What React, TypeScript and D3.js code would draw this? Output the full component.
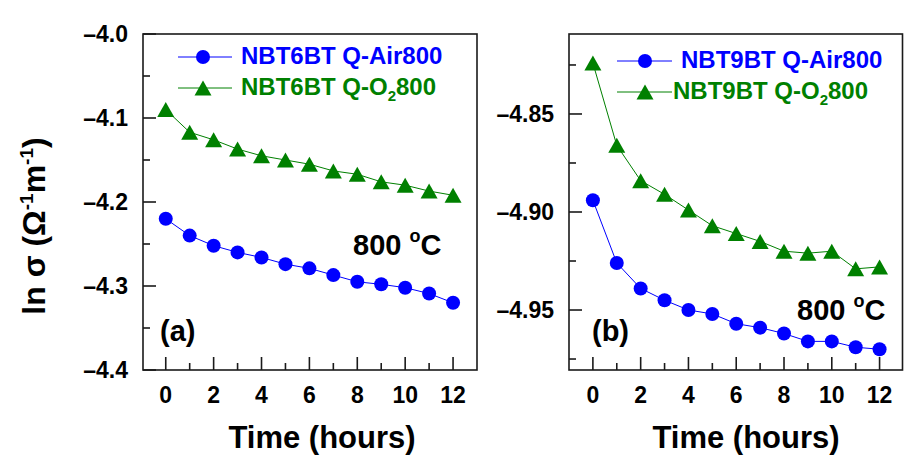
import React from "react";
import * as d3 from "d3";

// Time axis (hours)
const hours = [0, 1, 2, 3, 4, 5, 6, 7, 8, 9, 10, 11, 12];

// Panel (a): NBT6BT at 800 °C, ln σ
const nbt6Air = [-4.220, -4.240, -4.252, -4.260, -4.266, -4.274, -4.279, -4.287, -4.295, -4.298, -4.302, -4.309, -4.320];
const nbt6O2 = [-4.090, -4.117, -4.126, -4.137, -4.145, -4.150, -4.155, -4.163, -4.167, -4.176, -4.180, -4.187, -4.192];

// Panel (b): NBT9BT at 800 °C, ln σ
const nbt9Air = [-4.894, -4.926, -4.939, -4.945, -4.950, -4.952, -4.957, -4.959, -4.962, -4.966, -4.966, -4.969, -4.970];
const nbt9O2 = [-4.824, -4.866, -4.884, -4.891, -4.899, -4.907, -4.911, -4.915, -4.920, -4.921, -4.920, -4.929, -4.928];

// Tick values
const xMajorTicks = [0, 2, 4, 6, 8, 10, 12];
const xMinorTicks = [1, 3, 5, 7, 9, 11];
const yMajorLeft = [-4.4, -4.3, -4.2, -4.1, -4.0];
const yMinorLeft = [-4.35, -4.25, -4.15, -4.05];
const yMajorRight = [-4.95, -4.9, -4.85];
const yMinorRight = [-4.975, -4.925, -4.875, -4.825];

const BLUE = "#0000ff";
const GREEN = "#008000";
const FONT = "'Liberation Sans', Arial, sans-serif";

type PanelProps = {
  x0: number;
  x1: number;
  xDomain: [number, number];
  yDomain: [number, number];
  yMajor: number[];
  yMinor: number[];
  yFormat: (v: number) => string;
  air: number[];
  o2: number[];
  airLabel: string;
  o2Prefix: string;
  legend: { line0: number; line1: number; mark: number; textX: number; textX2: number; row1: number; row2: number };
  tag: string;
  tagX: number;
  tempX: number;
  tempY: number;
  titleX: number;
};

const TOP = 34;
const BOTTOM = 370;

function triPath(cx: number, cy: number, w = 17, h = 15) {
  return `M${cx},${cy - h / 2}L${cx + w / 2},${cy + h / 2}L${cx - w / 2},${cy + h / 2}Z`;
}

function Panel(p: PanelProps) {
  const x = d3.scaleLinear().domain(p.xDomain).range([p.x0, p.x1]);
  const y = d3.scaleLinear().domain(p.yDomain).range([BOTTOM, TOP]);
  const line = d3
    .line<number>()
    .x((_, i) => x(hours[i]))
    .y((d) => y(d));
  const major = 13;
  const minor = 7;
  return (
    <g fontFamily={FONT} fontWeight="bold">
      {/* series lines */}
      <path d={line(p.o2) || ""} fill="none" stroke={GREEN} strokeWidth={1} />
      <path d={line(p.air) || ""} fill="none" stroke={BLUE} strokeWidth={1} />
      {p.o2.map((v, i) => (
        <path key={"t" + i} d={triPath(x(hours[i]), y(v))} fill={GREEN} />
      ))}
      {p.air.map((v, i) => (
        <circle key={"c" + i} cx={x(hours[i])} cy={y(v)} r={7} fill={BLUE} />
      ))}

      {/* frame */}
      <rect x={p.x0} y={TOP} width={p.x1 - p.x0} height={BOTTOM - TOP} fill="none" stroke="#1a1a1a" strokeWidth={1.6} />

      {/* x ticks */}
      {xMajorTicks.map((t) => (
        <g key={"xm" + t}>
          <line x1={x(t)} x2={x(t)} y1={BOTTOM} y2={BOTTOM - major} stroke="#1a1a1a" strokeWidth={1.6} />
          <text x={x(t)} y={403} fontSize={23} textAnchor="middle" fill="#000">
            {t}
          </text>
        </g>
      ))}
      {xMinorTicks.map((t) => (
        <line key={"xn" + t} x1={x(t)} x2={x(t)} y1={BOTTOM} y2={BOTTOM - minor} stroke="#1a1a1a" strokeWidth={1.6} />
      ))}

      {/* y ticks */}
      {p.yMajor.map((t) => (
        <g key={"ym" + t}>
          <line x1={p.x0} x2={p.x0 + major} y1={y(t)} y2={y(t)} stroke="#1a1a1a" strokeWidth={1.6} />
          <text x={p.x0 - 15} y={y(t) + 8} fontSize={23} textAnchor="end" fill="#000">
            {p.yFormat(t)}
          </text>
        </g>
      ))}
      {p.yMinor.map((t) => (
        <line key={"yn" + t} x1={p.x0} x2={p.x0 + minor} y1={y(t)} y2={y(t)} stroke="#1a1a1a" strokeWidth={1.6} />
      ))}

      {/* legend */}
      <line x1={p.legend.line0} x2={p.legend.line1} y1={p.legend.row1 - 7} y2={p.legend.row1 - 7} stroke={BLUE} strokeWidth={1} />
      <circle cx={p.legend.mark} cy={p.legend.row1 - 7} r={7} fill={BLUE} />
      <text x={p.legend.textX} y={p.legend.row1} fontSize={24} fill={BLUE}>
        {p.airLabel}
      </text>
      <line x1={p.legend.line0} x2={p.legend.line1} y1={p.legend.row2 - 7} y2={p.legend.row2 - 7} stroke={GREEN} strokeWidth={1} />
      <path d={triPath(p.legend.mark, p.legend.row2 - 7)} fill={GREEN} />
      <text x={p.legend.textX2} y={p.legend.row2} fontSize={24} fill={GREEN}>
        {p.o2Prefix}
        <tspan fontSize={15} dy={6}>2</tspan>
        <tspan dy={-6}>800</tspan>
      </text>

      {/* annotations */}
      <text x={p.tagX} y={341} fontSize={29} fill="#000">
        {p.tag}
      </text>
      <text x={p.tempX} y={p.tempY} fontSize={29} fill="#000">
        800 <tspan fontSize={18} dy={-13}>o</tspan>
        <tspan dy={13}>C</tspan>
      </text>

      {/* x-axis title */}
      <text x={p.titleX} y={448} fontSize={31} textAnchor="middle" fill="#000">
        Time (hours)
      </text>
    </g>
  );
}

const fmtTick = (digits: number) => (v: number) => d3.format(`.${digits}f`)(v).replace("−", "–");

export default function App() {
  return (
    <svg
      width={904}
      height={455}
      style={{ position: "absolute", left: 0, top: 0, background: "#ffffff" }}
    >
      <Panel
        x0={143}
        x1={477}
        xDomain={[-0.95, 13]}
        yDomain={[-4.4, -4.0]}
        yMajor={yMajorLeft}
        yMinor={yMinorLeft}
        yFormat={fmtTick(1)}
        air={nbt6Air}
        o2={nbt6O2}
        airLabel="NBT6BT Q-Air800"
        o2Prefix="NBT6BT Q-O"
        legend={{ line0: 178, line1: 232, mark: 203, textX: 241, textX2: 241, row1: 64, row2: 95 }}
        tag="(a)"
        tagX={160}
        tempX={353}
        tempY={255}
        titleX={322}
      />
      <Panel
        x0={569}
        x1={902.5}
        xDomain={[-1, 12.96]}
        yDomain={[-4.9806, -4.8092]}
        yMajor={yMajorRight}
        yMinor={yMinorRight}
        yFormat={fmtTick(2)}
        air={nbt9Air}
        o2={nbt9O2}
        airLabel="NBT9BT Q-Air800"
        o2Prefix="NBT9BT Q-O"
        legend={{ line0: 617, line1: 672, mark: 645, textX: 681, textX2: 673, row1: 68, row2: 99 }}
        tag="(b)"
        tagX={592}
        tempX={797}
        tempY={320}
        titleX={746}
      />

      {/* shared y-axis title */}
      <text
        transform="translate(45,226) rotate(-90)"
        fontFamily={FONT}
        fontWeight="bold"
        fontSize={32}
        textAnchor="middle"
        fill="#000"
      >
        ln σ (Ω<tspan fontSize={19} dy={-12}>-1</tspan>
        <tspan dy={12}>m</tspan>
        <tspan fontSize={19} dy={-12}>-1</tspan>
        <tspan dy={12}>)</tspan>
      </text>
    </svg>
  );
}
